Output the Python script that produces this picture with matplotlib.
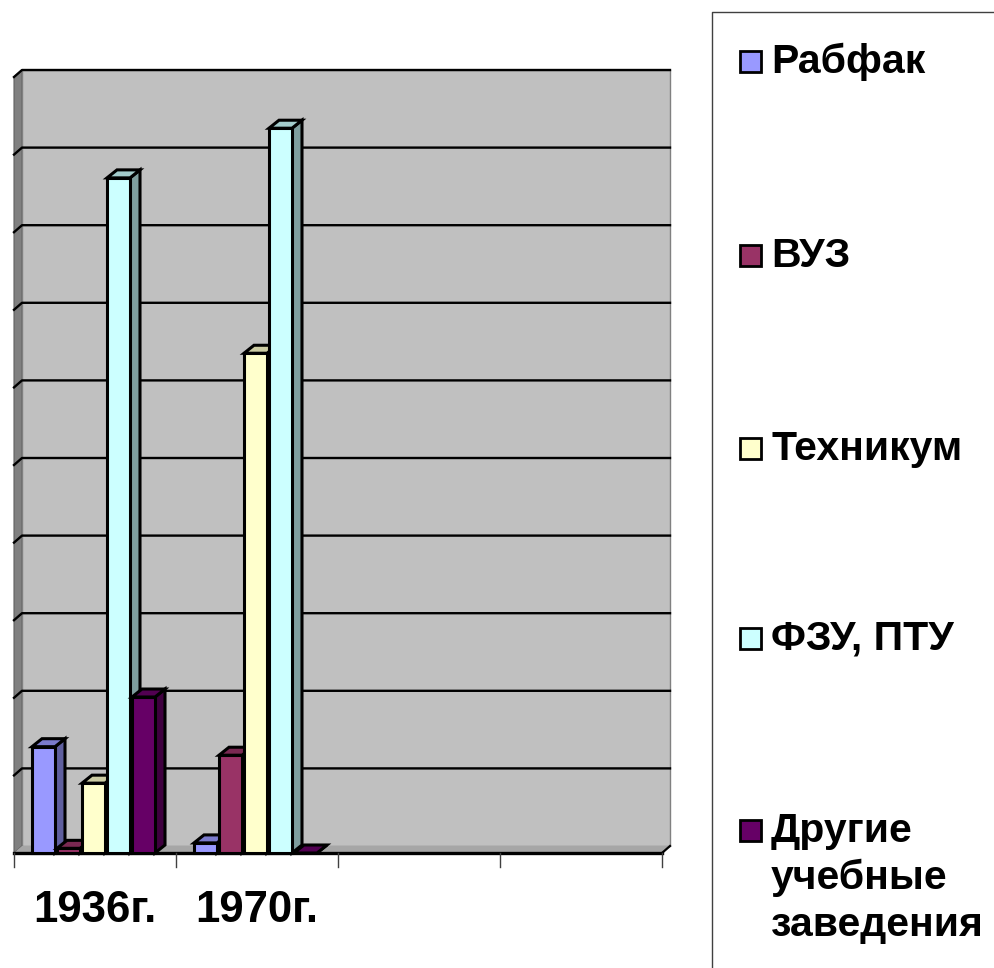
import matplotlib
matplotlib.use("Agg")
import matplotlib.pyplot as plt
from matplotlib.patches import Polygon, Rectangle
from matplotlib.lines import Line2D
import numpy as np

plt.rcParams['font.family'] = ['Liberation Sans', 'DejaVu Sans']

categories = ["1936г.", "1970г.", "", ""]
series_names = ["Рабфак", "ВУЗ", "Техникум", "ФЗУ, ПТУ", "Другие\nучебные\nзаведения"]
colors = ["#9999FF", "#993366", "#FFFFCC", "#CCFFFF", "#660066"]
rabfak = [13.7, 1.3, 0, 0]
vuz = [0.6, 12.6, 0, 0]
tekhnikum = [9.0, 64.4, 0, 0]
fzu = [87.0, 93.4, 0, 0]
drugie = [20.1, 0.0, 0, 0]
values = [rabfak, vuz, tekhnikum, fzu, drugie]
n_drawn = 2  # categories with data

W, H = 995, 968
fig = plt.figure(figsize=(W / 100, H / 100), dpi=100)
ax = fig.add_axes([14 / W, (H - 853) / H, 648 / W, 776 / H])
ax.set_xlim(0, 4)
ax.set_ylim(0, 100)
ax.axis('off')

pxx = 4 / 648.0   # data per px (x)
pxy = 100 / 776.0  # data per px (y)
DX, DY = 10 * pxx, 8 * pxy   # bar depth
WX, WY = 8 * pxx, 7 * pxy   # wall depth


def shade(c, f):
    r, g, b = matplotlib.colors.to_rgb(c)
    return (r * f, g * f, b * f)

# side wall
ax.add_patch(Polygon([(0, 0), (0, 100), (WX, 100 + WY), (WX, WY)], closed=True,
                     facecolor="#808080", edgecolor="#606060", lw=0.8, zorder=1, clip_on=False))
# back wall
ax.add_patch(Rectangle((WX, WY), 4, 100, facecolor="#C0C0C0", edgecolor="#808080",
                       lw=1.0, zorder=1, clip_on=False))
# floor
ax.add_patch(Polygon([(0, 0), (4, 0), (4 + WX, WY), (WX, WY)], closed=True,
                     facecolor="#A6A6A6", edgecolor="none", zorder=1, clip_on=False))
ax.add_line(Line2D([4, 4 + WX], [0, WY], color="black", lw=1.6, zorder=2, clip_on=False))

# gridlines
for v in range(10, 101, 10):
    ax.add_line(Line2D([0, WX, 4 + WX], [v, v + WY, v + WY], color="black", lw=1.7,
                       zorder=2, clip_on=False))

# x axis
ax.add_line(Line2D([0, 4], [0, 0], color="black", lw=2.4, zorder=2, clip_on=False))
for i in range(5):
    ax.add_line(Line2D([i, i], [0, -14 * pxy], color="#404040", lw=1.0, zorder=2, clip_on=False))

# bars
off0 = 18 * pxx
pitch = 25 * pxx
bw = 23 * pxx
z = 3
for c in range(n_drawn):
    for s in range(5):
        h = values[s][c]
        x0 = c + off0 + s * pitch
        col = colors[s]
        ec = dict(edgecolor="black", lw=2.2, joinstyle="miter", clip_on=False)
        ax.add_patch(Polygon([(x0 + bw, 0), (x0 + bw, h), (x0 + bw + DX, h + DY), (x0 + bw + DX, DY)],
                             closed=True, facecolor=shade(col, 0.62), zorder=z, **ec))
        ax.add_patch(Polygon([(x0, h), (x0 + bw, h), (x0 + bw + DX, h + DY), (x0 + DX, h + DY)],
                             closed=True, facecolor=shade(col, 0.8), zorder=z, **ec))
        if h > 0:
            ax.add_patch(Rectangle((x0, 0), bw, h, facecolor=col, zorder=z + 0.5, **ec))
        z += 1

# category labels
for c, lab in enumerate(categories):
    if lab:
        ax.text(c + 0.5, -57 * pxy, lab, ha="center", va="center", fontsize=31.5,
                fontweight="bold", clip_on=False)

# legend (drawn manually)
def fx(x):
    return x / W

def fy(y):
    return 1 - y / H

fig.add_artist(Line2D([fx(712), fx(712), fx(995)], [fy(968), fy(12), fy(12)],
                      color="#404040", lw=1.0, transform=fig.transFigure))
leg_y = [62, 256, 449, 639, 831]
for s, name in enumerate(series_names):
    yc = leg_y[s]
    fig.add_artist(Rectangle((fx(740), fy(yc + 10)), 21 / W, 21 / H, facecolor=colors[s],
                             edgecolor="black", lw=2.0, transform=fig.transFigure))
    lines = name.split("\n")
    for k, ln in enumerate(lines):
        fig.text(fx(771), fy(yc + 47 * k), ln, ha="left", va="center", fontsize=29.5,
                 fontweight="bold")

fig.savefig("out.png", dpi=100)
